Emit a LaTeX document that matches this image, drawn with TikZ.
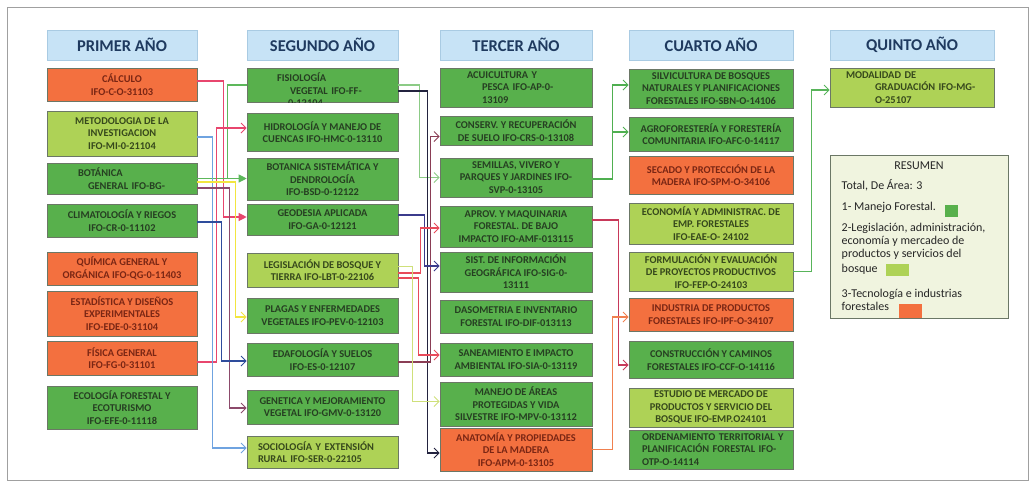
\documentclass[tikz,border=0pt]{standalone}
\usepackage{fontspec}
\setmainfont{Carlito}
\usetikzlibrary{arrows.meta}
\definecolor{hdrfill}{HTML}{C7E3F6}
\definecolor{hdrdraw}{HTML}{A9CBE3}
\definecolor{hdrtext}{HTML}{1F3A5F}
\definecolor{gfill}{HTML}{58B04C}
\definecolor{lfill}{HTML}{AED256}
\definecolor{ofill}{HTML}{F3703F}
\definecolor{gtext}{HTML}{263F22}
\definecolor{ltext}{HTML}{36481C}
\definecolor{otext}{HTML}{7A2614}
\definecolor{bdraw}{HTML}{6B7766}
\definecolor{resfill}{HTML}{F0F4DF}
\definecolor{framec}{HTML}{A0A0A0}
\definecolor{cpink}{HTML}{E8466E}
\definecolor{cgreenA}{HTML}{5DB85B}
\definecolor{cblue}{HTML}{6FA3E0}
\definecolor{cyellow}{HTML}{F2E640}
\definecolor{cplum}{HTML}{8C4A6B}
\definecolor{cnavy}{HTML}{2E4C9C}
\definecolor{cpalegreen}{HTML}{8CCB86}
\definecolor{cblack}{HTML}{23233F}
\definecolor{cmaroon}{HTML}{8A3D55}
\definecolor{cnavyB}{HTML}{3B3B8C}
\definecolor{cred}{HTML}{E84A5A}
\definecolor{cyg}{HTML}{CFE07A}
\definecolor{cgreenB}{HTML}{4FAF50}
\definecolor{credB}{HTML}{C8395A}
\definecolor{corange}{HTML}{F0804F}
\definecolor{cgreenC}{HTML}{58B45A}
\tikzset{
  hdr/.style={draw=hdrdraw, fill=hdrfill, text=hdrtext, font=\fontsize{16.5}{18}\selectfont\bfseries, minimum height=30pt, inner sep=0pt},
  box/.style={draw=bdraw, line width=0.6pt, inner sep=0pt, align=center, font=\fontsize{10.4}{12.6}\selectfont\bfseries},
  gbox/.style={box, fill=gfill, text=gtext},
  lbox/.style={box, fill=lfill, text=ltext},
  obox/.style={box, fill=ofill, text=otext},
  lefttext/.style={align=left, text width=#1},
  cA/.style={minimum width=150pt},
  cB/.style={minimum width=151pt},
  cC/.style={minimum width=152pt},
  cD/.style={minimum width=164pt},
  cE/.style={minimum width=164pt},
  con/.style={line width=1.1pt},
  opena/.style={-{Straight Barb[length=5pt,width=10pt,line width=1pt]}},
  filla/.style={-{Triangle[length=8pt,width=8pt]}},
  restext/.style={font=\fontsize{12}{13}\selectfont, text=black!85, inner sep=0pt},
}
\begin{document}
\begin{tikzpicture}[x=1pt,y=-1pt]
\useasboundingbox (0,0) rectangle (1035,491);
\draw[framec, line width=0.7pt] (7,7) rectangle (1028,480);

% headers
\node[hdr, cA] (h1) at (122,45) {PRIMER AÑO};
\node[hdr, cB] (h2) at (322.5,45) {SEGUNDO AÑO};
\node[hdr, cC] (h3) at (516,45) {TERCER AÑO};
\node[hdr, cD] (h4) at (711,45) {CUARTO AÑO};
\node[hdr, cE] (h5) at (912,45) {QUINTO AÑO};

% column 1
\node[obox, cA, minimum height=33pt] (calc) at (122,84.5) {CÁLCULO\\IFO-C-O-31103};
\node[lbox, cA, minimum height=45pt] (meto) at (122,133.5) {METODOLOGIA DE LA\\INVESTIGACION\\IFO-MI-0-21104};
\node[gbox, cA, minimum height=31pt, lefttext=150pt] (bota) at (122,178.5) {\hspace*{31pt}BOTÁNICA\\\hspace*{41pt}GENERAL IFO-BG-};
\node[gbox, cA, minimum height=33pt] (clim) at (122,220.5) {CLIMATOLOGÍA Y RIEGOS\\IFO-CR-0-11102};
\node[obox, cA, minimum height=33pt] (quim) at (122,268.5) {QUÍMICA GENERAL Y\\ORGÁNICA IFO-QG-0-11403};
\node[obox, cA, minimum height=45pt] (esta) at (122,313.5) {ESTADÍSTICA Y DISEÑOS\\EXPERIMENTALES\\IFO-EDE-0-31104};
\node[obox, cA, minimum height=34pt] (fisi) at (122,358) {FÍSICA GENERAL\\IFO-FG-0-31101};
\node[gbox, cA, minimum height=43pt] (ecol) at (122,407.5) {ECOLOGÍA FORESTAL Y\\ECOTURISMO\\IFO-EFE-0-11118};

% column 2
\node[gbox, cB, minimum height=34pt] (fisio) at (322.5,85) {};
\begin{scope}
\clip (fisio.north west) rectangle (fisio.south east);
\node[box, text=gtext, draw=none, lefttext=151pt] (fisiot) at (322.5,90) {\hspace*{30pt}FISIOLOGÍA\\\hspace*{43pt}VEGETAL IFO-FF-\\\hspace*{41pt}0-12104};
\end{scope}
\node[gbox, cB, minimum height=38pt] (hidro) at (322.5,132) {HIDROLOGÍA Y MANEJO DE\\CUENCAS IFO-HMC-0-13110};
\node[gbox, cB, minimum height=42pt] (bsd) at (322.5,179) {BOTANICA SISTEMÁTICA Y\\DENDROLOGÍA\\IFO-BSD-0-12122};
\node[gbox, cB, minimum height=31pt] (geo) at (322.5,219.5) {GEODESIA APLICADA\\IFO-GA-0-12121};
\node[lbox, cB, minimum height=34pt] (leg) at (322.5,270) {LEGISLACIÓN DE BOSQUE Y\\TIERRA IFO-LBT-0-22106};
\node[gbox, cB, minimum height=35pt] (plag) at (322.5,315.5) {PLAGAS Y ENFERMEDADES\\VEGETALES IFO-PEV-0-12103};
\node[gbox, cB, minimum height=33pt] (edaf) at (322.5,359.5) {EDAFOLOGÍA Y SUELOS\\IFO-ES-0-12107};
\node[gbox, cB, minimum height=34pt] (gen) at (322.5,407) {GENETICA Y MEJORAMIENTO\\VEGETAL IFO-GMV-0-13120};
\node[lbox, cB, minimum height=32pt, lefttext=151pt] (soc) at (322.5,452) {\hspace*{11pt}SOCIOLOGÍA Y EXTENSIÓN\\\hspace*{11pt}RURAL IFO-SER-0-22105};

% column 3
\node[gbox, cC, minimum height=39pt, lefttext=152pt] (acui) at (516,87.5) {\hspace*{27pt}ACUICULTURA Y\\\hspace*{42pt}PESCA IFO-AP-0-\\\hspace*{42pt}13109};
\node[gbox, cC, minimum height=29pt] (cons) at (516,130.5) {CONSERV. Y RECUPERACIÓN\\DE SUELO IFO-CRS-0-13108};
\node[gbox, cC, minimum height=39pt] (semi) at (516,177.5) {SEMILLAS, VIVERO Y\\PARQUES Y JARDINES IFO-\\SVP-0-13105};
\node[gbox, cC, minimum height=41pt] (aprov) at (516,226.5) {APROV. Y MAQUINARIA\\FORESTAL. DE BAJO\\IMPACTO IFO-AMF-013115};
\node[gbox, cC, minimum height=40pt] (sig) at (516,272) {SIST. DE INFORMACIÓN\\GEOGRÁFICA IFO-SIG-0-\\13111};
\node[gbox, cC, minimum height=33pt] (daso) at (516,316.5) {DASOMETRIA E INVENTARIO\\FORESTAL IFO-DIF-013113};
\node[gbox, cC, minimum height=33pt] (sane) at (516,359.5) {SANEAMIENTO E IMPACTO\\AMBIENTAL IFO-SIA-0-13119};
\node[gbox, cC, minimum height=44pt] (mane) at (516,404) {MANEJO DE ÁREAS\\PROTEGIDAS Y VIDA\\SILVESTRE IFO-MPV-0-13112};
\node[obox, cC, minimum height=43pt] (anat) at (516,449.5) {ANATOMÍA Y PROPIEDADES\\DE LA MADERA\\IFO-APM-0-13105};

% column 4
\node[gbox, cD, minimum height=39pt] (silv) at (711,88.5) {SILVICULTURA DE BOSQUES\\NATURALES Y PLANIFICACIONES\\FORESTALES IFO-SBN-O-14106};
\node[gbox, cD, minimum height=34pt] (agro) at (711,134) {AGROFORESTERÍA Y FORESTERÍA\\COMUNITARIA IFO-AFC-0-14117};
\node[obox, cD, minimum height=38pt] (seca) at (711,175) {SECADO Y PROTECCIÓN DE LA\\MADERA IFO-SPM-O-34106};
\node[lbox, cD, minimum height=41pt] (econ) at (711,223.5) {ECONOMÍA Y ADMINISTRAC. DE\\EMP. FORESTALES\\IFO-EAE-O- 24102};
\node[lbox, cD, minimum height=39pt] (form) at (711,271.5) {FORMULACIÓN Y EVALUACIÓN\\DE PROYECTOS PRODUCTIVOS\\IFO-FEP-O-24103};
\node[obox, cD, minimum height=33pt] (indu) at (711,314.5) {INDUSTRIA DE PRODUCTOS\\FORESTALES IFO-IPF-O-34107};
\node[gbox, cD, minimum height=37pt] (cons2) at (711,359.5) {CONSTRUCCIÓN Y CAMINOS\\FORESTALES IFO-CCF-O-14116};
\node[lbox, cD, minimum height=39pt] (estu) at (711,407.5) {ESTUDIO DE MERCADO DE\\PRODUCTOS Y SERVICIO DEL\\BOSQUE IFO-EMP.O24101};
\node[gbox, cD, minimum height=39pt, lefttext=164pt] (orde) at (711,449.5) {\hspace*{13pt}ORDENAMIENTO TERRITORIAL Y\\\hspace*{13pt}PLANIFICACIÓN FORESTAL IFO-\\\hspace*{13pt}OTP-O-14114};

% column 5
\node[lbox, cE, minimum height=39pt, lefttext=164pt] (moda) at (912,87.5) {\hspace*{16pt}MODALIDAD DE\\\hspace*{45pt}GRADUACIÓN IFO-MG-\\\hspace*{45pt}O-25107};

% resumen
\node[draw=bdraw, line width=0.6pt, fill=resfill, minimum width=178pt, minimum height=163pt, inner sep=0pt] (res) at (919,236.5) {};
\node[restext] (rtitle) at (919,166) {RESUMEN};
\node[restext, anchor=mid west] (r1) at (841.5,186.7) {Total, De Área: 3};
\node[restext, anchor=mid west] (r2) at (841.5,208.3) {1- Manejo Forestal.};
\node[restext, anchor=mid west] (r3) at (841.5,229) {2-Legislación, administración,};
\node[restext, anchor=mid west] (r4) at (841.5,242) {economía y mercadeo de};
\node[restext, anchor=mid west] (r5) at (841.5,255.3) {productos y servicios del};
\node[restext, anchor=mid west] (r6) at (841.5,269.7) {bosque};
\node[restext, anchor=mid west] (r7) at (841.5,295) {3-Tecnología e industrias};
\node[restext, anchor=mid west] (r8) at (841.5,308.3) {forestales};
\node[fill=gfill, minimum width=13pt, minimum height=12pt, inner sep=0pt] (sq1) at (951.5,211) {};
\node[fill=lfill, minimum width=23pt, minimum height=12pt, inner sep=0pt] (sq2) at (897.5,270) {};
\node[fill=ofill, minimum width=23pt, minimum height=14pt, inner sep=0pt] (sq3) at (910.5,311) {};

% connectors column 1 -> 2
\draw[con, cpink, filla] ([yshift=3.5pt]calc.east) -- ++(26,0) |- ([yshift=2.5pt]geo.west);
\draw[con, cgreenA] (bota.east) -- ++(30,0) |- (fisio.west);
\draw[con, cgreenA, filla] (bota.east) -- (bota.east -| bsd.west);
\draw[con, cpink, opena] ([yshift=-4pt]fisi.east) -- ++(19,0) |- ([yshift=4pt]hidro.west);
\draw[con, cblue, opena] ([yshift=-3.5pt]meto.east) -- ++(15,0) |- ([yshift=4pt]soc.west);
\draw[con, cyellow, opena] ([yshift=-3.5pt]bota.east) -- ++(38,0) |- ([yshift=-1.5pt]plag.west);
\draw[con, cplum, opena] ([yshift=-9.5pt]bota.east) -- ++(32,0) |- ([yshift=-1pt]gen.west);
\draw[con, cnavy, opena] ([yshift=-1.5pt]clim.east) -- ++(24,0) |- ([yshift=-1.5pt]edaf.west);

% connectors column 2 -> 3
\draw[con, cpalegreen, opena] (fisio.east) -- ++(21,0) |- (semi.west);
\draw[con, cblack, opena] ([yshift=-6pt]fisio.east) -- ++(29,0) |- ([yshift=-3.5pt]anat.west);
\draw[con, cmaroon, opena] ([yshift=-2.5pt]edaf.east) -- ++(32,0) |- ([yshift=-6pt]cons.west);
\draw[con, cnavyB, opena] ([yshift=4.5pt]geo.east) -- ++(26,0) |- ([yshift=6pt]sig.west);
\draw[con, cred, opena] ([yshift=-3pt]leg.east) -- ++(22,0) |- ([yshift=-1.5pt]aprov.west);
\draw[con, cred, opena] ([yshift=-8pt]leg.east) -- ++(20,0) |- ([yshift=4.5pt]sane.west);
\draw[con, cyg, opena] ([yshift=3.5pt]leg.east) -- ++(14,0) |- ([yshift=2.5pt]mane.west);

% connectors column 3 -> 4
\draw[con, cgreenB, opena] ([yshift=-1.5pt]semi.east) -- ++(20,0) |- ([yshift=3.5pt]silv.west);
\draw[con, cgreenB, opena] ([yshift=-1.5pt]semi.east) -- ++(20,0) |- ([yshift=2pt]agro.west);
\draw[con, credB, opena] ([yshift=6.5pt]aprov.east) -- ++(26,0) |- ([yshift=-5.5pt]cons2.west);
\draw[con, corange, opena] (anat.east) -- ++(20,0) |- ([yshift=-2.5pt]indu.west);

% connector column 4 -> 5
\draw[con, cgreenC, opena] (form.east) -- ++(18,0) |- ([yshift=-2.5pt]moda.west);
\end{tikzpicture}
\end{document}
